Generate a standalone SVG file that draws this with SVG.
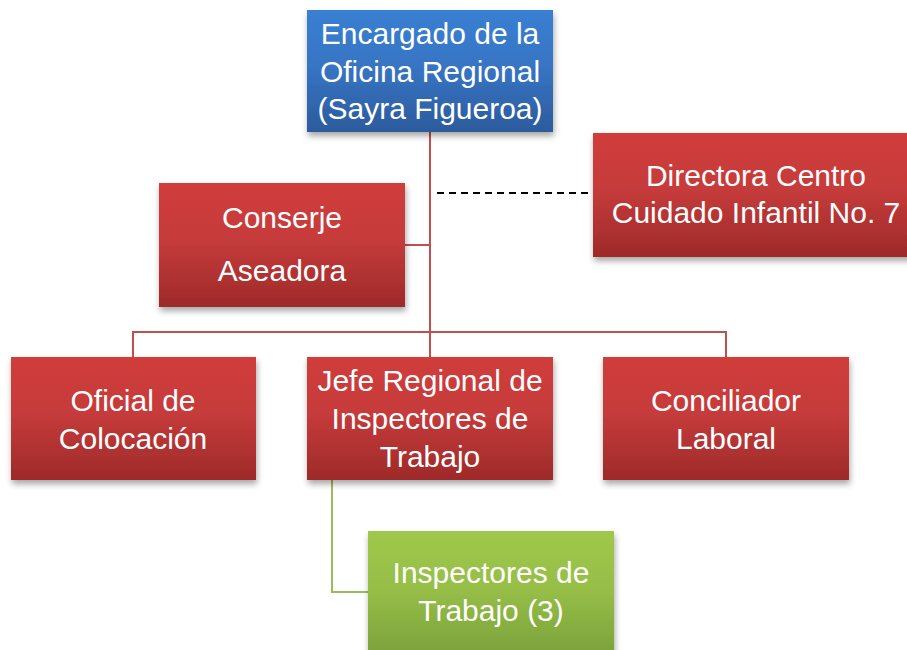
<svg xmlns="http://www.w3.org/2000/svg" width="907" height="650" viewBox="0 0 907 650">
<defs>
<linearGradient id="gRed" x1="0" y1="0" x2="0" y2="1">
<stop offset="0" stop-color="#d03c3a"/><stop offset="0.45" stop-color="#c63b3b"/><stop offset="1" stop-color="#9e2a29"/>
</linearGradient>
<linearGradient id="gBlue" x1="0" y1="0" x2="0" y2="1">
<stop offset="0" stop-color="#3a7fd2"/><stop offset="0.45" stop-color="#3775c4"/><stop offset="1" stop-color="#2c5b9d"/>
</linearGradient>
<linearGradient id="gGreen" x1="0" y1="0" x2="0" y2="1">
<stop offset="0" stop-color="#9fc84b"/><stop offset="0.45" stop-color="#96be47"/><stop offset="1" stop-color="#78a03a"/>
</linearGradient>
<filter id="sh" x="-10%" y="-10%" width="125%" height="130%">
<feDropShadow dx="1" dy="4" stdDeviation="3" flood-color="#000" flood-opacity="0.35"/>
</filter>
</defs>
<style>
.box{filter:url(#sh)}
.t{font-family:"Liberation Sans",Arial,sans-serif;font-size:30px;fill:#fff;text-anchor:middle}
.red{stroke:#c0504d;stroke-width:2;fill:none}
.grn{stroke:#9bbb59;stroke-width:2;fill:none}
.dash{stroke:#000;stroke-width:2;stroke-dasharray:7,5;fill:none}
</style>
<rect width="907" height="650" fill="#fff"/>
<g id="connectors">
<path class="red" d="M430 132V357"/>
<path class="red" d="M405 245H430"/>
<path class="red" d="M133 357V332H726V357"/>
<path class="grn" d="M332 480V592H368"/>
<path class="dash" d="M437 193H593"/>
</g>
<g id="n-encargado">
<rect class="box" x="307" y="10" width="246" height="122" fill="url(#gBlue)"/>
<text class="t" x="430" y="44">Encargado de la</text>
<text class="t" x="430" y="82">Oficina Regional</text>
<text class="t" x="430" y="119">(Sayra Figueroa)</text>
</g>
<g id="n-directora">
<rect class="box" x="593" y="133" width="330" height="124" fill="url(#gRed)"/>
<text class="t" x="756" y="186">Directora Centro</text>
<text class="t" x="756" y="223">Cuidado Infantil No. 7</text>
</g>
<g id="n-conserje">
<rect class="box" x="159" y="183" width="246" height="124" fill="url(#gRed)"/>
<text class="t" x="282" y="228">Conserje</text>
<text class="t" x="282" y="281">Aseadora</text>
</g>
<g id="n-oficial">
<rect class="box" x="11" y="357" width="245" height="123" fill="url(#gRed)"/>
<text class="t" x="133" y="411">Oficial de</text>
<text class="t" x="133" y="449">Colocación</text>
</g>
<g id="n-jefe">
<rect class="box" x="307" y="357" width="246" height="123" fill="url(#gRed)"/>
<text class="t" x="430" y="391">Jefe Regional de</text>
<text class="t" x="430" y="429">Inspectores de</text>
<text class="t" x="430" y="467">Trabajo</text>
</g>
<g id="n-conciliador">
<rect class="box" x="603" y="357" width="246" height="123" fill="url(#gRed)"/>
<text class="t" x="726" y="411">Conciliador</text>
<text class="t" x="726" y="449">Laboral</text>
</g>
<g id="n-inspectores">
<rect class="box" x="368" y="531" width="246" height="130" fill="url(#gGreen)"/>
<text class="t" x="491" y="583">Inspectores de</text>
<text class="t" x="491" y="621">Trabajo (3)</text>
</g>
</svg>
